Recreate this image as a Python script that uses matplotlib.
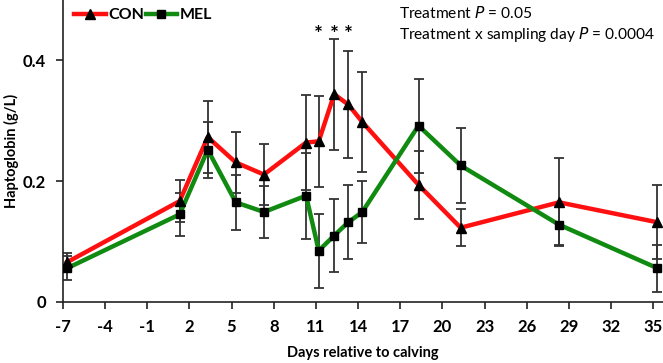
import matplotlib
matplotlib.use("Agg")
import matplotlib.pyplot as plt
from matplotlib.lines import Line2D

# Data
days = [-6.7, 1.3, 3.3, 5.3, 7.3, 10.3, 11.2, 12.3, 13.3, 14.3, 18.3, 21.3, 28.3, 35.3]
con = [0.066, 0.167, 0.273, 0.231, 0.211, 0.264, 0.266, 0.344, 0.327, 0.298, 0.194, 0.123, 0.165, 0.132]
con_err = [0.015, 0.035, 0.060, 0.050, 0.050, 0.078, 0.075, 0.092, 0.088, 0.083, 0.056, 0.031, 0.073, 0.061]
mel = [0.056, 0.145, 0.252, 0.165, 0.149, 0.176, 0.085, 0.110, 0.132, 0.149, 0.292, 0.226, 0.128, 0.056]
mel_err = [0.020, 0.035, 0.046, 0.046, 0.043, 0.071, 0.061, 0.060, 0.061, 0.052, 0.078, 0.062, 0.033, 0.039]
x_ticks = [-7, -4, -1, 2, 5, 8, 11, 14, 17, 20, 23, 26, 29, 32, 35]
y_ticks = [0, 0.2, 0.4]
y_tick_labels = ["0", "0.2", "0.4"]
star_idx = [6, 7, 8]

plt.rcParams['font.family'] = ['Lato', 'DejaVu Sans']

fig = plt.figure(figsize=(6.63, 3.63), dpi=100)
ax = fig.add_axes([63/663, 61/363, 600/663, 302/363])

ecol = '#333333'
ax.errorbar(days, con, yerr=con_err, fmt='none', ecolor=ecol, elinewidth=1.3, capsize=3.5, capthick=1.3, zorder=2)
ax.errorbar(days, mel, yerr=mel_err, fmt='none', ecolor=ecol, elinewidth=1.3, capsize=3.5, capthick=1.3, zorder=2)
ax.plot(days, con, color='#ff1010', lw=3.2, zorder=3)
ax.plot(days, mel, color='#108a10', lw=3.2, zorder=3)
ax.plot(days, con, ls='none', marker='^', ms=6.5, color='black', zorder=4)
ax.plot(days, mel, ls='none', marker='s', ms=6, color='black', zorder=4)

ax.set_xlim(-7, 35.7)
ax.set_ylim(0, 0.5)
ax.set_xticks(x_ticks)
ax.set_xticklabels([str(t) for t in x_ticks], fontsize=12, fontweight='bold')
ax.set_yticks(y_ticks)
ax.set_yticklabels(y_tick_labels, fontsize=12, fontweight='bold')
for s in ['top', 'right']:
    ax.spines[s].set_visible(False)
for s in ['left', 'bottom']:
    ax.spines[s].set_color('#222222')
    ax.spines[s].set_linewidth(1.2)
ax.tick_params(direction='out', length=5, width=1.2, color='#222222', pad=7)

ax.set_xlabel('Days relative to calving', fontsize=10.5, fontweight='bold', labelpad=8)
ax.set_ylabel('Haptoglobin (g/L)', fontsize=10.5, fontweight='bold', labelpad=3)

handles = [Line2D([], [], color='#ff1010', lw=3.2, marker='^', ms=6.5, mfc='black', mec='black'),
           Line2D([], [], color='#108a10', lw=3.2, marker='s', ms=6, mfc='black', mec='black')]
leg = ax.legend(handles, ['CON', 'MEL'], ncol=2, loc='upper left', bbox_to_anchor=(0.0, 1.01),
                frameon=False, handlelength=2.0, handletextpad=0.12, columnspacing=0.1,
                prop={'weight': 'bold', 'size': 11.5}, borderaxespad=0.3)

for i in star_idx:
    ax.text(days[i], 0.442, '*', ha='center', va='center', fontsize=15, fontweight='bold')

ax.text(0.56, 0.985, r'Treatment $\it{P}$ = 0.05', transform=ax.transAxes, fontsize=11.2, va='top', ha='left')
ax.text(0.56, 0.918, r'Treatment x sampling day $\it{P}$ = 0.0004', transform=ax.transAxes, fontsize=11.2, va='top', ha='left')

fig.savefig('out.png', dpi=100)
